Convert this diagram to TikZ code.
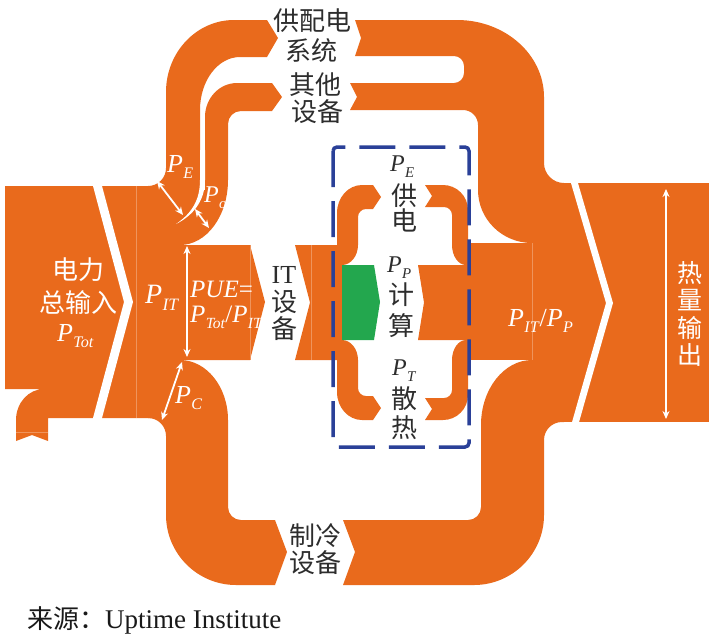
\documentclass[tikz,border=0pt]{standalone}
\usepackage{fontspec}
\setmainfont{Liberation Serif}
\newfontfamily\cjk{Noto Sans CJK SC}
\usetikzlibrary{arrows.meta}
\definecolor{org}{RGB}{233,106,28}
\definecolor{grn}{RGB}{35,167,78}
\definecolor{dbl}{RGB}{42,64,152}
\definecolor{txt}{RGB}{45,45,45}
\newcommand{\Pv}[1]{\textit{P}\kern0.3pt\raisebox{-0.55ex}{\scalebox{0.62}{\textit{#1}}}}
\tikzset{
  flow/.style={fill=org},
  seam/.style={draw=org!72!white, line width=0.6pt},
  cjw/.style={text=white, inner sep=0pt, font=\cjk\fontsize{26}{26}\selectfont},
  cjd/.style={text=txt, inner sep=0pt, font=\cjk\fontsize{26}{26}\selectfont},
  ltw/.style={text=white, inner sep=0pt, font=\fontsize{26}{26}\selectfont},
  ltd/.style={text=txt, inner sep=0pt, font=\fontsize{26}{26}\selectfont},
  warr/.style={draw=white, line width=1.8pt, {Stealth[length=8pt,width=7pt]}-{Stealth[length=8pt,width=7pt]}},
}
\begin{document}
\begin{tikzpicture}[x=1pt,y=-1pt]
\useasboundingbox (0,0) rectangle (717,638);
% ---------- left input + middle block
\fill[flow] (5,186) -- (181,186) -- (181,418) -- (48,418) -- (48,441) -- (32,435) -- (16,441) -- (16,420) .. controls (16,402.9) and (28.5,389) .. (44,389) -- (5,389) -- cycle;
\fill[flow] (44,380) rectangle (181,418);
% P_E band (to power supply)
\fill[flow] (148,200) -- (148,186) .. controls (158,186) and (166,178) .. (166,168) -- (166,92) .. controls (166,52.3) and (196.5,20) .. (234,20) -- (267,20) -- (278,38) -- (267,57) -- (240,57) .. controls (217.9,57) and (200,80.7) .. (200,110) -- (200,200) -- cycle;
% P_o band (other equipment)
\fill[flow] (180,190) -- (205,190) -- (205,117) .. controls (205,98.2) and (219.3,83) .. (237,83) -- (272,83) -- (282,97) -- (272,111) -- (241,111) .. controls (233.8,111) and (228,116.8) .. (228,124) -- (228,180) .. controls (228,216) and (206.5,245) .. (180,245) -- cycle;
% PUE block
\fill[flow] (180,245) -- (250,245) -- (265,302) -- (250,360) -- (180,360) -- cycle;
% P_C band (cooling)
\fill[flow] (148,405) -- (148,418) .. controls (158,418) and (166,426) .. (166,436) -- (166,515) .. controls (166,553.6) and (197.4,585) .. (236,585) -- (275,585) -- (287,552) -- (275,520) -- (241,520) .. controls (233.8,520) and (228,514.2) .. (228,507) -- (228,420) .. controls (228,386.9) and (206.5,360) .. (180,360) -- (180,405) -- cycle;
% IT block
\fill[flow] (295,245) -- (343,245) -- (343,360) -- (295,360) -- (310,302.5) -- cycle;
% inner bands left
\fill[flow] (337,252) -- (337,213) .. controls (337,197.5) and (348.2,185) .. (362,185) -- (373,185) -- (381,197) -- (373,209) -- (366,209) .. controls (361.6,209) and (358,212.6) .. (358,217) -- (358,245) .. controls (358,256) and (350.8,265) .. (342,265) -- (337,265) -- cycle;
\fill[flow] (337,353) -- (337,392) .. controls (337,407.5) and (348.2,420) .. (362,420) -- (373,420) -- (381,408) -- (373,396) -- (366,396) .. controls (361.6,396) and (358,392.4) .. (358,388) -- (358,360) .. controls (358,349) and (350.8,340) .. (342,340) -- (337,340) -- cycle;
% P_P band
\fill[flow] (418,265) -- (470,265) -- (470,340) -- (418,340) -- (424,302.5) -- cycle;
% inner bands right
\fill[flow] (425,185) -- (443,185) .. controls (456.8,185) and (468,196.2) .. (468,210) -- (468,265) -- (466,265) .. controls (458.3,265) and (452,256) .. (452,245) -- (452,215) .. controls (452,210.6) and (448.4,207) .. (444,207) -- (425,207) -- (432,196) -- cycle;
\fill[flow] (425,420) -- (443,420) .. controls (456.8,420) and (468,408.8) .. (468,395) -- (468,340) -- (466,340) .. controls (458.3,340) and (452,349) .. (452,360) -- (452,390) .. controls (452,394.4) and (448.4,398) .. (444,398) -- (425,398) -- (432,409) -- cycle;
% right merge
\fill[flow] (466,243) -- (532,243) -- (532,360) -- (466,360) -- cycle;
\fill[flow] (532,183) -- (709,183) -- (709,422) -- (532,422) -- cycle;
% top merged band
\fill[flow] (355,20) -- (457,20) .. controls (505,20) and (544,54.5) .. (544,97) -- (544,163) .. controls (544,174) and (553,183) .. (564,183) -- (564,243) -- (532,243) .. controls (502.2,243) and (478,219.3) .. (478,190) -- (478,125) .. controls (478,116.7) and (471.3,110) .. (463,110) -- (350,110) -- (357,97) -- (350,83) -- (454,83) .. controls (459.5,83) and (464,78.5) .. (464,73) -- (464,66) .. controls (464,60.5) and (459.5,56) .. (454,56) -- (355,56) -- (361,38) -- cycle;
% bottom merged band
\fill[flow] (343,520) -- (468,520) .. controls (475.2,520) and (481,514.2) .. (481,507) -- (481,425) .. controls (481,389) and (504,360) .. (532,360) -- (564,360) -- (564,422) -- (562,422) .. controls (552,422) and (544,430) .. (544,440) -- (544,515) .. controls (544,553.6) and (512.6,585) .. (474,585) -- (343,585) -- (355,552) -- cycle;
% ---------- white gaps
\fill[white] (200,150) -- (200,180) .. controls (200,200) and (192,213) .. (176,224) .. controls (194,215) and (205,200) .. (205,180) -- (205,150) -- cycle;
\fill[white] (91.4,180) -- (100.4,180) -- (133,302) -- (100.4,424) -- (91.4,424) -- (124,302) -- cycle;
\fill[white] (569.5,178) -- (576.5,178) -- (613,303) -- (577.6,427) -- (570.6,427) -- (606,303) -- cycle;
% ---------- compute (green)
\fill[grn] (342,265) -- (374,265) -- (380,302) -- (374,340) -- (342,340) -- cycle;
% ---------- seams
\draw[seam] (136,186) -- (136,418);
\draw[seam] (250,245) -- (250,360);
\draw[seam] (311,245) -- (311,360);
\draw[seam] (532,243) -- (532,360);
\draw[seam] (16,432) -- (48,432);
% ---------- dashed IT boundary
\draw[dbl, line width=3.5pt, dash pattern=on 36pt off 14pt, rounded corners=4pt] (333,147) rectangle (469,447);
% ---------- dimension arrows
\coordinate (e1) at (157,181); \coordinate (e2) at (183,215);
\coordinate (o1) at (195,209); \coordinate (o2) at (209,228);
\coordinate (i1) at (187,246); \coordinate (i2) at (187,357);
\coordinate (c1) at (182,362); \coordinate (c2) at (162,420);
\coordinate (h1) at (666,189); \coordinate (h2) at (666,419);
\draw[warr] (e1) -- (e2);
\draw[warr] (o1) -- (o2);
\draw[warr] (i1) -- (i2);
\draw[warr] (c1) -- (c2);
\draw[warr] (h1) -- (h2);
% ---------- white labels
\node[cjw] (tin1) at (78,270) {电力};
\node[cjw] (tin2) at (78,303) {总输入};
\node[ltw, anchor=base west] (ptot) at (57,341) {\Pv{Tot}};
\node[ltw, font=\fontsize{28}{28}\selectfont, anchor=base west] (pit) at (145,303) {\Pv{IT}};
\node[ltw, font=\fontsize{25}{25}\selectfont, anchor=base west] (pue1) at (190,297) {\textit{PUE}=};
\node[ltw, font=\fontsize{25}{25}\selectfont, anchor=base west] (pue2) at (190,322) {\Pv{Tot}/\Pv{IT}};
\node[ltw, anchor=base west] (pc) at (175,403) {\Pv{C}};
\node[ltw, anchor=base west] (pe) at (167,172) {\Pv{E}};
\node[ltw, font=\fontsize{24}{24}\selectfont, anchor=base west] (po) at (204,202) {\Pv{o}};
\node[ltw, anchor=base west] (pitp) at (508,326) {\Pv{IT}/\Pv{P}};
\node[cjw, font=\cjk\fontsize{25}{25}\selectfont] (ho1) at (690,273) {热};
\node[cjw, font=\cjk\fontsize{25}{25}\selectfont] (ho2) at (690,300) {量};
\node[cjw, font=\cjk\fontsize{25}{25}\selectfont] (ho3) at (690,328) {输};
\node[cjw, font=\cjk\fontsize{25}{25}\selectfont] (ho4) at (690,355) {出};
% ---------- dark labels
\node[cjd] (ps1) at (312,21) {供配电};
\node[cjd] (ps2) at (311,51) {系统};
\node[cjd] (ot1) at (315,85) {其他};
\node[cjd] (ot2) at (317,112) {设备};
\node[ltd] (it1) at (284,275) {IT};
\node[cjd] (it2) at (284,302) {设};
\node[cjd] (it3) at (284,329) {备};
\node[cjd] (cl1) at (315,536) {制冷};
\node[cjd] (cl2) at (315,563) {设备};
\node[ltd, font=\fontsize{24}{24}\selectfont, anchor=base west] (pe2) at (390,171) {\Pv{E}};
\node[cjd] (gd1) at (404,196) {供};
\node[cjd] (gd2) at (404,220) {电};
\node[ltd, font=\fontsize{24}{24}\selectfont, anchor=base west] (pp) at (387,272) {\Pv{P}};
\node[cjd] (js1) at (401,295) {计};
\node[cjd] (js2) at (401,326) {算};
\node[ltd, font=\fontsize{24}{24}\selectfont, anchor=base west] (pt) at (392,375) {\Pv{T}};
\node[cjd] (sr1) at (404,399) {散};
\node[cjd] (sr2) at (404,428) {热};
\node[ltd, text=black!90, font=\fontsize{27}{27}\selectfont, anchor=base west] (src) at (27,628) {{\cjk\fontsize{26}{26}\selectfont 来源：}Uptime Institute};
\end{tikzpicture}
\end{document}
